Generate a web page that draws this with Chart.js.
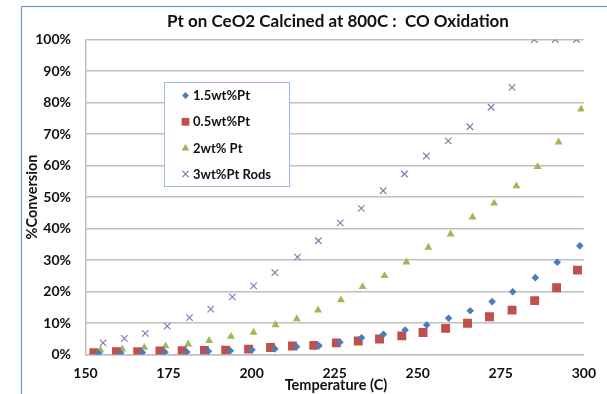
<!DOCTYPE html>
<html><head><meta charset="utf-8">
<script src="https://cdn.jsdelivr.net/npm/chart.js@4"></script>
<style>html,body{margin:0;padding:0;background:#fff;}#wrap{width:607px;height:394px;position:relative;}</style>
</head><body><div id="wrap"><canvas id="c" width="607" height="394"></canvas></div>
<script>
const chartTitle = 'Pt on CeO2 Calcined at 800C :  CO Oxidation';
const xTitle = 'Temperature (C)';
const yTitle = '%Conversion';
const seriesNames = ['1.5wt%Pt', '0.5wt%Pt', '2wt% Pt', '3wt%Pt Rods'];
const xTicks = [150, 175, 200, 225, 250, 275, 300];
const yTicks = [0, 10, 20, 30, 40, 50, 60, 70, 80, 90, 100];

const tempBlue = [154.0,160.6,167.1,173.9,180.5,187.0,193.6,200.1,207.0,213.5,220.3,226.6,233.1,239.7,246.2,252.7,259.3,265.8,272.4,278.6,285.4,292.0,298.8];
const convBlue = [0.3,0.5,0.6,0.7,0.8,1.0,1.2,1.5,1.8,2.5,2.8,3.9,5.3,6.4,7.8,9.4,11.5,13.9,16.8,19.9,24.4,29.3,34.5];

const tempRed = [152.5,159.3,165.7,172.4,179.1,185.8,192.2,199.1,205.7,212.3,218.7,225.5,232.1,238.5,245.2,251.6,258.4,265.0,271.6,278.4,285.2,291.8,298.1];
const convRed = [0.6,0.9,0.9,1.1,1.2,1.3,1.4,1.7,2.2,2.7,2.9,3.7,4.3,4.9,5.9,7.0,8.3,9.9,12.0,14.1,17.1,21.2,26.8];

const tempGreen = [154.5,161.1,167.7,174.1,180.9,187.2,193.8,200.6,207.2,213.6,220.0,226.9,233.4,240.0,246.6,253.2,259.9,266.5,273.0,279.7,286.1,292.4,299.2];
const convGreen = [1.4,1.7,2.2,2.7,3.3,4.4,5.7,7.0,9.4,11.3,14.1,17.3,21.5,25.0,29.3,34.0,38.2,43.6,48.0,53.5,59.6,67.4,77.9];

const tempPurple = [155.3,161.7,168.0,174.6,181.3,187.7,194.2,200.6,207.0,213.8,220.1,226.7,233.0,239.6,246.0,252.6,259.2,265.7,272.1,278.4,285.1,291.4,297.8];
const convPurple = [3.7,5.1,6.7,9.0,11.7,14.4,18.3,21.8,26.0,30.9,36.1,41.8,46.4,52.0,57.3,63.0,67.8,72.3,78.5,84.8,100,100,100];

const FONT = 'Lato, "Open Sans", sans-serif';
const toPts = (xs, ys) => xs.map((x, i) => ({x: x, y: ys[i]}));

const styles = [
  {color: '#4a7ebb', pointStyle: 'rectRot', radius: 3.8, borderWidth: 0},
  {color: '#c0504d', pointStyle: 'rect', radius: 6.3, borderWidth: 0},
  {color: '#9bbb59', pointStyle: 'triangle', radius: 4.6, borderWidth: 0},
  {color: '#8e76b5', pointStyle: 'crossRot', radius: 4.6, borderWidth: 1.2}
];
const dataSets = [toPts(tempBlue, convBlue), toPts(tempRed, convRed), toPts(tempGreen, convGreen), toPts(tempPurple, convPurple)];

const datasets = [0, 1, 2, 3].map(i => ({
  label: seriesNames[i],
  data: dataSets[i],
  showLine: false,
  pointStyle: styles[i].pointStyle,
  pointRadius: styles[i].radius,
  pointHoverRadius: styles[i].radius,
  pointBackgroundColor: styles[i].color,
  pointBorderColor: styles[i].color,
  pointBorderWidth: styles[i].borderWidth,
  order: i
}));

function drawMarker(ctx, st, x, y) {
  ctx.save();
  ctx.fillStyle = st.color;
  ctx.strokeStyle = st.color;
  ctx.lineWidth = st.borderWidth || 0.001;
  if (Chart.helpers && Chart.helpers.drawPoint) {
    Chart.helpers.drawPoint(ctx, {pointStyle: st.pointStyle, rotation: 0, radius: st.radius, borderWidth: st.borderWidth}, x, y);
  }
  ctx.restore();
}

const decor = {
  id: 'decor',
  beforeDraw(chart) {
    const ctx = chart.ctx;
    ctx.save();
    ctx.fillStyle = '#fff';
    ctx.fillRect(0, 0, chart.width, chart.height);
    ctx.strokeStyle = '#6f9bd6';
    ctx.lineWidth = 1.2;
    ctx.strokeRect(21.5, 6.5, 700, 500);
    ctx.restore();
  },
  afterDraw(chart) {
    const ctx = chart.ctx;
    ctx.save();
    ctx.fillStyle = '#111';
    ctx.textAlign = 'center';
    ctx.textBaseline = 'middle';
    ctx.font = 'bold 17px ' + FONT;
    ctx.fillText(chartTitle, 338, 22);
    ctx.font = 'bold 14.5px ' + FONT;
    ctx.fillText(xTitle, 336, 385.5);
    ctx.save();
    ctx.translate(32, 197);
    ctx.rotate(-Math.PI / 2);
    ctx.fillText(yTitle, 0, 0);
    ctx.restore();
    // legend
    const lx = 164.5, ly = 82.5, lw = 125, lh = 104;
    ctx.fillStyle = '#fff';
    ctx.fillRect(lx, ly, lw, lh);
    ctx.strokeStyle = '#9db8e2';
    ctx.lineWidth = 1;
    ctx.strokeRect(lx, ly, lw, lh);
    const rows = [95.5, 121.8, 148.2, 174];
    ctx.font = 'bold 13px ' + FONT;
    ctx.textAlign = 'left';
    for (let i = 0; i < 4; i++) {
      const st = styles[i];
      const legSt = Object.assign({}, st, {radius: i === 1 ? 5.5 : (i === 0 ? 3.4 : 4.4)});
      drawMarker(ctx, legSt, 185.5, rows[i]);
      ctx.fillStyle = '#111';
      ctx.fillText(seriesNames[i], 193, rows[i] + 0.5);
    }
    ctx.restore();
  }
};

new Chart(document.getElementById('c'), {
  type: 'scatter',
  data: {datasets: datasets},
  options: {
    responsive: false,
    animation: false,
    devicePixelRatio: 1,
    layout: {padding: {left: 0, right: 17, top: 39.5, bottom: 0}},
    plugins: {legend: {display: false}, title: {display: false}, tooltip: {enabled: false}},
    scales: {
      x: {
        type: 'linear', min: 150, max: 300,
        afterBuildTicks: s => { s.ticks = xTicks.map(v => ({value: v})); },
        afterFit: s => { s.height = 39.5; },
        grid: {display: false, drawTicks: false},
        border: {display: true, color: '#c0c0c0', width: 1.5},
        ticks: {padding: 11, color: '#111', font: {family: FONT, size: 14, weight: 'bold'}, maxRotation: 0}
      },
      y: {
        min: 0, max: 100,
        afterBuildTicks: s => { s.ticks = yTicks.map(v => ({value: v})); },
        afterFit: s => { s.width = 85.5; },
        grid: {color: '#c0c0c0', lineWidth: 1.5, drawTicks: false},
        border: {display: true, color: '#c0c0c0', width: 1.5},
        ticks: {padding: 14.5, color: '#111', font: {family: FONT, size: 14, weight: 'bold'}, callback: v => v + '%'}
      }
    }
  },
  plugins: [decor]
});
</script></body></html>
